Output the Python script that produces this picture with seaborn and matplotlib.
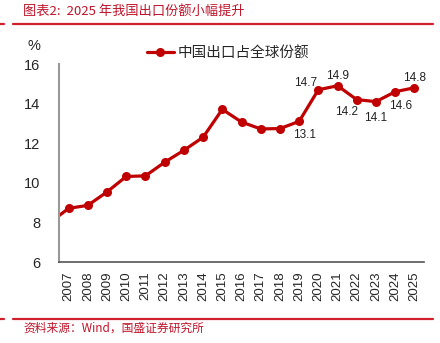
import matplotlib
matplotlib.use("Agg")
import matplotlib.pyplot as plt
import seaborn as sns
import pandas as pd
from matplotlib.lines import Line2D

sns.set_theme(style="white")
plt.rcParams['font.family'] = ['Liberation Sans', 'Noto Sans CJK SC', 'DejaVu Sans']

years = [2006, 2007, 2008, 2009, 2010, 2011, 2012, 2013, 2014, 2015, 2016,
         2017, 2018, 2019, 2020, 2021, 2022, 2023, 2024, 2025]
share = [7.97, 8.71, 8.86, 9.54, 10.32, 10.35, 11.04, 11.64, 12.30, 13.71, 13.07,
         12.72, 12.74, 13.1, 14.7, 14.9, 14.2, 14.1, 14.6, 14.8]
label_years = [2019, 2020, 2021, 2022, 2023, 2024, 2025]
label_pos = ['below_r', 'above_l', 'above', 'below_l', 'below', 'below_r', 'above']
series_name = '中国出口占全球份额'
title = '图表2:  2025 年我国出口份额小幅提升'
source = '资料来源：Wind，国盛证券研究所'

df = pd.DataFrame({'year': years, 'share': share})

W, H = 440, 343
fig = plt.figure(figsize=(W / 100, H / 100), dpi=100)
ax = fig.add_axes([59 / W, (H - 262) / H, (424 - 59) / W, (262 - 64) / H])

red = '#c00000'
sns.lineplot(data=df, x='year', y='share', ax=ax, color=red, linewidth=2.3,
             marker='o', markersize=6.5, markeredgewidth=0, legend=False)

ax.set_xlim(2006.5, 2025.5)
ax.set_ylim(6, 16)
ax.set_yticks([6, 8, 10, 12, 14, 16])
ax.set_xticks(years[1:])
ax.set_xticks([y + 0.5 for y in [2006] + years[1:]], minor=True)
ax.set_xticklabels([str(y) for y in years[1:]], rotation=90, fontsize=9.5,
                   family=['Liberation Sans'])
ax.tick_params(axis='x', which='major', length=0, pad=7)
ax.tick_params(axis='x', which='minor', length=4, direction='in', color='#555555', width=1)
ax.tick_params(axis='y', which='major', length=4, direction='in', color='#999999',
               width=1, pad=13.5, labelsize=10.5)
ax.set_xlabel('')
ax.set_ylabel('')
for s in ['top', 'right']:
    ax.spines[s].set_visible(False)
ax.spines['left'].set_color('#999999')
ax.spines['left'].set_linewidth(1.5)
ax.spines['bottom'].set_color('#555555')
ax.spines['bottom'].set_linewidth(1.2)

# data labels
offsets = {'above': (0, 10), 'above_l': (-13, 7), 'below': (0, -16),
           'below_l': (-10, -12), 'below_r': (5, -14)}
for yr, pos in zip(label_years, label_pos):
    v = share[years.index(yr)]
    dx, dy = offsets[pos]
    ax.annotate(f'{v:.1f}', (yr, v), xytext=(dx * 0.72, dy * 0.72), textcoords='offset points',
                ha='center', va='center', fontsize=8.5, color='#222222')

# legend
handle = Line2D([], [], color=red, linewidth=2.3, marker='o', markersize=6.5,
                markeredgewidth=0)
fig.legend([handle], [series_name], loc='center left',
           bbox_to_anchor=(140 / W, 1 - 53 / H), frameon=False, borderpad=0,
           handlelength=1.8, handletextpad=0.3,
           prop={'family': ['Noto Sans CJK SC'], 'size': 10.5, 'weight': 'light'})

# % unit
fig.text(34 / W, 1 - 46 / H, '%', ha='center', va='center', fontsize=10.5, color='#222222')

# title and source
fig.text(23 / W, 1 - 11 / H, title, ha='left', va='center', fontsize=9.5,
         color='#c0142a', family=['Noto Sans CJK SC', 'DejaVu Sans'], style='italic',
         weight='light')
fig.text(23 / W, 1 - 328 / H, source, ha='left', va='center', fontsize=8.5,
         color='#c0142a', family=['Noto Sans CJK SC', 'DejaVu Sans'], style='italic',
         weight='light')

# red rules
rule = '#d0202e'
for yy in [24, 318.5]:
    fig.add_artist(Line2D([0, 4 / W], [1 - yy / H] * 2, color=rule, linewidth=1.6))
    fig.add_artist(Line2D([13 / W, 433 / W], [1 - yy / H] * 2, color=rule, linewidth=1.6))

fig.savefig('out.png', dpi=100)
